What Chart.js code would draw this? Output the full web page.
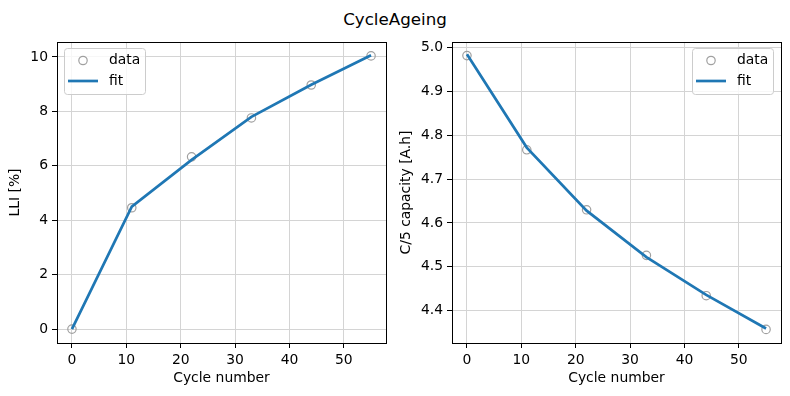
<!DOCTYPE html>
<html>
<head>
<meta charset="utf-8">
<script src="https://cdn.jsdelivr.net/npm/chart.js@4/dist/chart.umd.min.js"></script>
<style>
  body { margin: 0; background: #fff; }
  #wrap { position: relative; width: 790px; height: 396px; font-family: "DejaVu Sans", sans-serif; }
  #title { position: absolute; left: 0; top: 9px; width: 790px; text-align: center; font-size: 16.7px; line-height: 20px; color: #000; }
  canvas { position: absolute; top: 0; }
</style>
</head>
<body>
<div id="wrap">
  <div id="title">CycleAgeing</div>
  <canvas id="left" width="395" height="396" style="left:0"></canvas>
  <canvas id="right" width="395" height="396" style="left:395px"></canvas>
</div>
<script>
// cycle numbers
const cycles = [0, 11, 22, 33, 44, 55];
// LLI [%]
const lliData = [0, 4.46, 6.33, 7.76, 8.97, 10.04];
const lliFit = [0, 4.5, 6.22, 7.8, 8.98, 10.06];
// C/5 capacity [A.h]
const capData = [4.982, 4.767, 4.630, 4.526, 4.434, 4.357];
const capFit = [4.985, 4.772, 4.628, 4.522, 4.436, 4.359];

const xTicks = [0, 10, 20, 30, 40, 50];
const lliTicks = [0, 2, 4, 6, 8, 10];
const capTicks = [4.4, 4.5, 4.6, 4.7, 4.8, 4.9, 5.0];

const FONT = { family: 'DejaVu Sans', size: 13.9 };
const GRID = '#d4d4d4';

// frame around the axes + matplotlib style legend
const framePlugin = {
  id: 'frame',
  afterDraw(chart, args, opts) {
    const { ctx, chartArea: a } = chart;
    ctx.save();
    ctx.strokeStyle = '#000';
    ctx.lineWidth = 1;
    ctx.strokeRect(Math.round(a.left) + 0.5, Math.round(a.top) + 0.5,
      Math.round(a.right - a.left), Math.round(a.bottom - a.top));

    const w = 81, h = 46;
    const bx = opts.side === 'right' ? a.right - 8 - w : a.left + 7;
    const by = a.top + 6;
    ctx.beginPath();
    ctx.roundRect(bx + 0.5, by + 0.5, w, h, 3);
    ctx.fillStyle = 'rgba(255,255,255,0.8)';
    ctx.fill();
    ctx.strokeStyle = '#cccccc';
    ctx.stroke();

    ctx.beginPath();
    ctx.arc(bx + 19, by + 12.5, 4.2, 0, Math.PI * 2);
    ctx.strokeStyle = '#a0a0a0';
    ctx.lineWidth = 1.2;
    ctx.stroke();

    ctx.beginPath();
    ctx.moveTo(bx + 4, by + 33);
    ctx.lineTo(bx + 34, by + 33);
    ctx.strokeStyle = '#1f77b4';
    ctx.lineWidth = 2.7;
    ctx.stroke();

    ctx.fillStyle = '#000';
    ctx.font = '13.9px "DejaVu Sans"';
    ctx.textBaseline = 'middle';
    ctx.fillText('data', bx + 45, by + 12.5);
    ctx.fillText('fit', bx + 45, by + 33);
    ctx.restore();
  }
};

function makeChart(id, yData, yFit, yTicks, yLabel, yMin, yMax, decimals, side, titlePad) {
  const pts = a => cycles.map((c, i) => ({ x: c, y: a[i] }));
  return new Chart(document.getElementById(id), {
    type: 'scatter',
    data: {
      datasets: [
        { label: 'data', data: pts(yData), showLine: false, order: 1,
          pointRadius: 4.2, pointBorderWidth: 1.2,
          pointBorderColor: '#a0a0a0', pointBackgroundColor: 'rgba(0,0,0,0)' },
        { label: 'fit', data: pts(yFit), showLine: true, order: 0,
          borderColor: '#1f77b4', borderWidth: 2.7, pointRadius: 0, tension: 0 }
      ]
    },
    options: {
      responsive: false,
      animation: false,
      layout: { padding: { left: 0, right: 9, top: 42, bottom: 0 } },
      plugins: { legend: { display: false }, tooltip: { enabled: false }, frame: { side } },
      scales: {
        x: {
          type: 'linear', min: -2.75, max: 57.75,
          afterBuildTicks: s => { s.ticks = xTicks.map(v => ({ value: v })); },
          afterFit: s => { s.height = 53; },
          ticks: { font: FONT, color: '#000', padding: 4, maxRotation: 0 },
          grid: { color: GRID, lineWidth: 1, tickColor: '#000', tickLength: 5, tickWidth: 1 },
          border: { color: '#000', width: 1 },
          title: { display: true, text: 'Cycle number', font: FONT, color: '#000', padding: { top: 0, bottom: 9 } }
        },
        y: {
          type: 'linear', min: yMin, max: yMax,
          afterBuildTicks: s => { s.ticks = yTicks.map(v => ({ value: v })); },
          afterFit: s => { s.width = 57; },
          ticks: { font: FONT, color: '#000', padding: 4,
            callback: v => v.toFixed(decimals) },
          grid: { color: GRID, lineWidth: 1, tickColor: '#000', tickLength: 5, tickWidth: 1 },
          border: { color: '#000', width: 1 },
          title: { display: true, text: yLabel, font: FONT, color: '#000', padding: { top: titlePad, bottom: 0 } }
        }
      }
    },
    plugins: [framePlugin]
  });
}

makeChart('left', lliData, lliFit, lliTicks, 'LLI [%]', -0.51, 10.55, 0, 'left', 7);
makeChart('right', capData, capFit, capTicks, 'C/5 capacity [A.h]', 4.326, 5.013, 1, 'right', 3);
</script>
</body>
</html>
